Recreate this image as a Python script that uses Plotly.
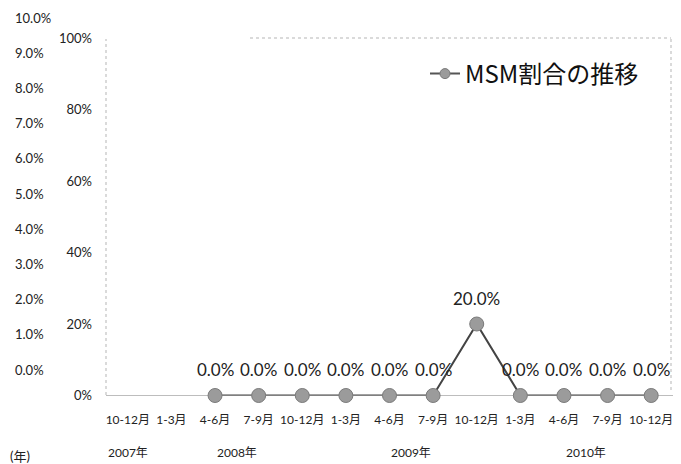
import plotly.graph_objects as go

# ---- data ----
month_labels = ["10-12月", "1-3月", "4-6月", "7-9月", "10-12月", "1-3月", "4-6月",
                "7-9月", "10-12月", "1-3月", "4-6月", "7-9月", "10-12月"]
msm_ratio = [None, None, 0.0, 0.0, 0.0, 0.0, 0.0, 0.0, 20.0, 0.0, 0.0, 0.0, 0.0]
year_labels = ["2007年", "2008年", "2009年", "2010年"]
series_name = "MSM割合の推移"
inner_ticks = [0, 20, 40, 60, 80, 100]
outer_ticks = [0, 1, 2, 3, 4, 5, 6, 7, 8, 9, 10]

# layout-only positions of the year labels (category index)
year_label_pos = [0, 2.5, 6.5, 10.5]

W, H = 681, 464
OFF = 8  # page body margin offset
FONT = "Lato, 'Noto Sans CJK JP', sans-serif"
idx = list(range(len(month_labels)))

def py(p):  # target pixel y -> paper fraction
    return 1 - (p - OFF) / H

def px(p):
    return (p - OFF) / W

fig = go.Figure()
# dummy trace to activate the outer percentage axis (drawn first, underneath)
fig.add_trace(go.Scatter(x=[0], y=[None], yaxis="y2", showlegend=False,
                         hoverinfo="skip", mode="markers"))
fig.add_trace(go.Scatter(
    x=idx, y=msm_ratio, name=series_name, showlegend=False,
    mode="lines+markers",
    line=dict(color="#444444", width=2),
    marker=dict(size=14, color="#9b9b9b", line=dict(color="#7a7a7a", width=1)),
    cliponaxis=False,
))
# legend entry with the smaller symbol used in the reference legend
fig.add_trace(go.Scatter(
    x=[None], y=[None], name=series_name, mode="lines+markers",
    line=dict(color="#555555", width=2),
    marker=dict(size=10, color="#9b9b9b", line=dict(color="#7a7a7a", width=1)),
))

for i, v in zip(idx, msm_ratio):
    if v is None:
        continue
    fig.add_annotation(x=i, y=v, xref="x", yref="y", text=f"{v:.1f}%",
                       showarrow=False, yshift=26, yanchor="middle",
                       font=dict(family=FONT, size=17, color="#222"))

fig.update_layout(
    width=W, height=H,
    margin=dict(l=0, r=0, t=0, b=0, autoexpand=False),
    paper_bgcolor="white", plot_bgcolor="rgba(0,0,0,0)",
    font=dict(family=FONT, color="#222"),
    xaxis=dict(
        domain=[px(106), px(673)], range=[-0.5, 12.5],
        tickvals=idx, ticktext=month_labels,
        tickfont=dict(size=12, color="#222"),
        showgrid=False, zeroline=False, showline=False, ticks="",
        ticklabelstandoff=15, automargin=False,
    ),
    yaxis=dict(
        domain=[py(395.5), py(38)], range=[0, 100],
        tickvals=inner_ticks, ticktext=[f"{t}%" for t in inner_ticks],
        tickfont=dict(size=13, color="#222"),
        showgrid=False, zeroline=False, showline=False, ticks="",
        ticklabelstandoff=13, automargin=False,
    ),
    yaxis2=dict(
        domain=[py(380), py(12)], range=[(370 - 380) / 35.2, (370 - 12) / 35.2],
        anchor="free", position=px(14), side="right",
        tickvals=outer_ticks, ticktext=[f"{t:.1f}%" for t in outer_ticks],
        tickfont=dict(size=13, color="#222"),
        showgrid=False, zeroline=False, showline=False, ticks="",
        automargin=False,
    ),
    legend=dict(
        x=px(425), y=py(74), xanchor="left", yanchor="middle",
        font=dict(family="'Noto Sans CJK JP', sans-serif", size=24, color="#111"),
        bgcolor="rgba(0,0,0,0)",
    ),
    showlegend=True,
)

# plot frame (dotted, light gray)
frame = dict(color="#b5b5b5", width=1, dash="dot")
fig.add_shape(type="line", xref="paper", yref="paper",
              x0=px(106), x1=px(106), y0=py(395), y1=py(39), line=frame)
fig.add_shape(type="line", xref="paper", yref="paper",
              x0=px(250), x1=px(671), y0=py(38), y1=py(38), line=frame)
fig.add_shape(type="line", xref="paper", yref="paper",
              x0=px(671), x1=px(671), y0=py(390), y1=py(38), line=frame)
fig.add_shape(type="line", xref="paper", yref="paper",
              x0=px(106), x1=px(673), y0=py(395.5), y1=py(395.5),
              line=dict(color="#bdbdbd", width=1), layer="below")

for lbl, pos in zip(year_labels, year_label_pos):
    fig.add_annotation(x=pos, y=py(452), xref="x", yref="paper", text=lbl,
                       showarrow=False, font=dict(size=12, color="#222"),
                       xanchor="center", yanchor="middle")
fig.add_annotation(x=px(8), y=py(456), xref="paper", yref="paper", text="(年)",
                   showarrow=False, font=dict(size=13, color="#222"),
                   xanchor="left", yanchor="middle")

fig.write_html("out.html")
